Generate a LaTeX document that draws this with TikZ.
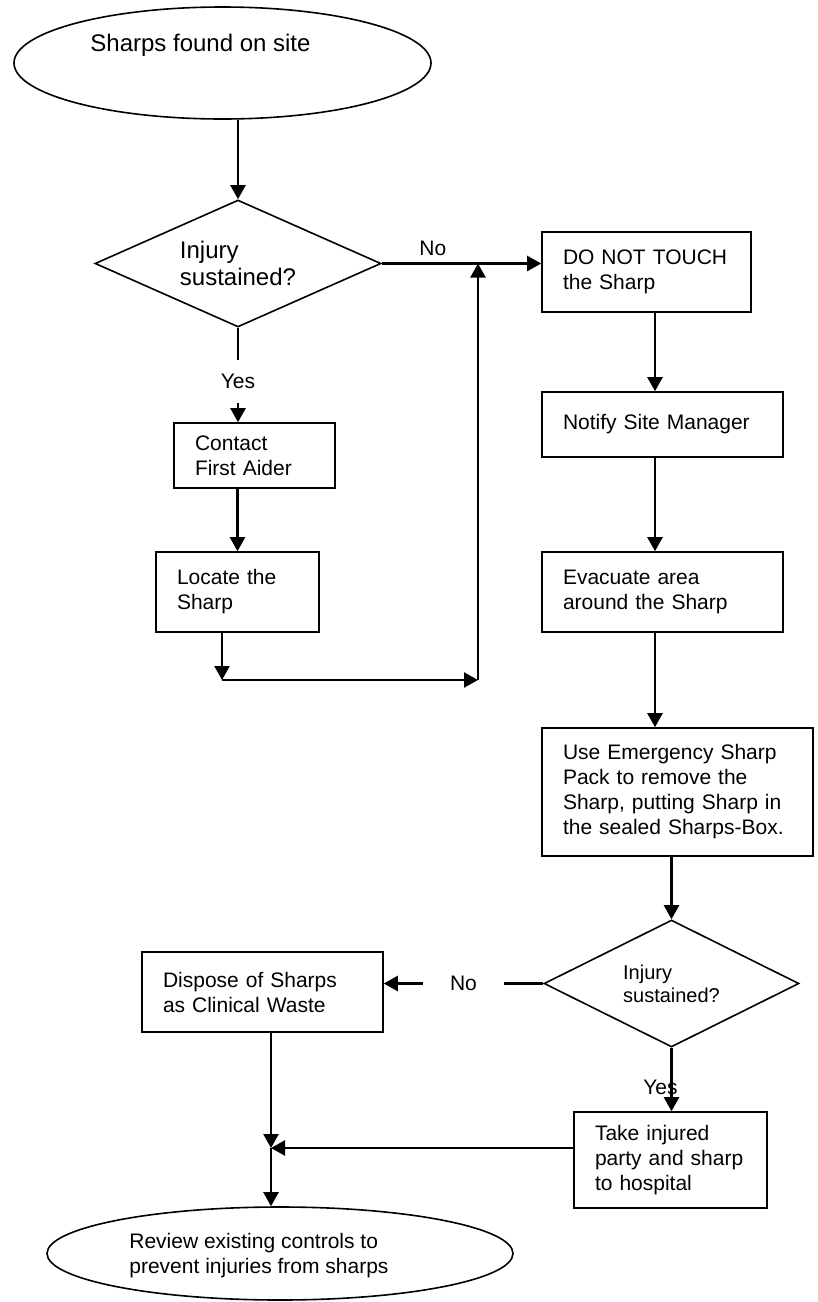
\documentclass[tikz,border=0pt]{standalone}
\usepackage{fontspec}
\setmainfont{Liberation Sans}
\usetikzlibrary{arrows.meta,shapes.geometric}

\begin{document}
\begin{tikzpicture}[x=0.5pt, y=-0.5pt,
		stepbox/.style={draw, line width=0.8pt, rectangle, align=left, inner xsep=10.5pt, inner ysep=0pt, font=\fontsize{10.5}{12.5}\selectfont},
		decision/.style={draw, line width=0.8pt, diamond, inner sep=0pt, align=left},
		terminal/.style={draw, line width=0.8pt, ellipse, inner sep=0pt},
		flow/.style={line width=1.2pt, -{Triangle[length=7pt,width=7.5pt]}},
		choice/.style={font=\fontsize{10.5}{12.5}\selectfont}]
		%%%%% START %%%%%
		
		\useasboundingbox (0,0) rectangle (818,1302);
		
		\node[terminal, minimum width=208.5pt, minimum height=56pt] (start) at (222.5,63) {};
		\node[anchor=west, inner sep=0pt, font=\fontsize{12}{14}\selectfont] (starttext) at (90,45) {Sharps found on site};
		
		\node[decision, aspect=2.25, minimum width=143pt, minimum height=63.5pt, font=\fontsize{12}{13.5}\selectfont] (injury1) at (238,263.5) {Injury\\sustained?};
		
		\node[stepbox, text width=59.5pt, minimum height=32.5pt] (contact) at (254.5,455.5) {Contact\\First Aider};
		\node[stepbox, text width=60.5pt, minimum height=40pt] (locate) at (237.5,592) {Locate the\\Sharp};
		
		\node[stepbox, text width=83.5pt, minimum height=40pt] (notouch) at (646.5,272) {DO NOT TOUCH\\the Sharp};
		\node[stepbox, text width=99.5pt, minimum height=32.5pt] (notify) at (662.5,424.5) {Notify Site Manager};
		\node[stepbox, text width=99.5pt, minimum height=40pt] (evacuate) at (662.5,592) {Evacuate area\\around the Sharp};
		\node[stepbox, text width=114.5pt, minimum height=64pt] (usepack) at (677.5,792) {Use Emergency Sharp\\Pack to remove the\\Sharp, putting Sharp in\\the sealed Sharps-Box.};
		
		\node[decision, aspect=2, minimum width=127.5pt, minimum height=63.5pt, font=\fontsize{10}{11.5}\selectfont] (injury2) at (671.5,983.5) {Injury\\sustained?};
		
		\node[stepbox, text width=99.5pt, minimum height=40pt] (dispose) at (262.5,992) {Dispose of Sharps\\as Clinical Waste};
		\node[stepbox, text width=75.5pt, minimum height=48pt] (hospital) at (670.5,1160) {Take injured\\party and sharp\\to hospital};
		
		\node[terminal, minimum width=233pt, minimum height=46.5pt] (review) at (280,1253.5) {};
		\node[anchor=west, align=left, inner sep=0pt, font=\fontsize{10.5}{12.5}\selectfont] (reviewtext) at (129,1255.5) {Review existing controls to\\prevent injuries from sharps};
		
		\coordinate (rightcol) at (655,0);
		\coordinate (loopa) at (222,680);
		\coordinate (loopb) at (478,680);
		\coordinate (merge) at (271,1148);
		
		% first question
		\draw[flow] (injury1.north |- start.south) -- (injury1.north);
		\draw[flow] (injury1.south) -- node[choice, pos=0.57, fill=white, inner xsep=2pt, inner ysep=7pt] (yes1) {Yes} (injury1.south |- contact.north);
		\draw[flow] (locate.north |- contact.south) -- (locate.north);
		\draw[flow] (loopa |- locate.south) -- (loopa);
		\draw[flow] (loopa) -- (loopb);
		\draw[flow] (loopb) -- (loopb |- injury1.east);
		\draw[flow] (injury1.east) -- node[choice, pos=0.32, above] (no1) {No} (injury1.east -| notouch.west);
		
		% right column
		\draw[flow] (rightcol |- notouch.south) -- (rightcol |- notify.north);
		\draw[flow] (rightcol |- notify.south) -- (rightcol |- evacuate.north);
		\draw[flow] (rightcol |- evacuate.south) -- (rightcol |- usepack.north);
		\draw[flow] (injury2.north |- usepack.south) -- (injury2.north);
		
		% second question
		\draw[flow] (injury2.west) -- node[choice, pos=0.5, fill=white, inner xsep=13.5pt] (no2) {No} (injury2.west -| dispose.east);
		\draw[flow] (injury2.south) -- node[choice, pos=0.63, xshift=-5.5pt] (yes2) {Yes} (injury2.south |- hospital.north);
		\draw[flow] (merge |- dispose.south) -- (merge);
		\draw[flow] (hospital.west |- merge) -- (merge);
		\draw[flow] (merge) -- (merge |- review.north);
		
		%%%%% END %%%%%
	\end{tikzpicture}
\end{document}
